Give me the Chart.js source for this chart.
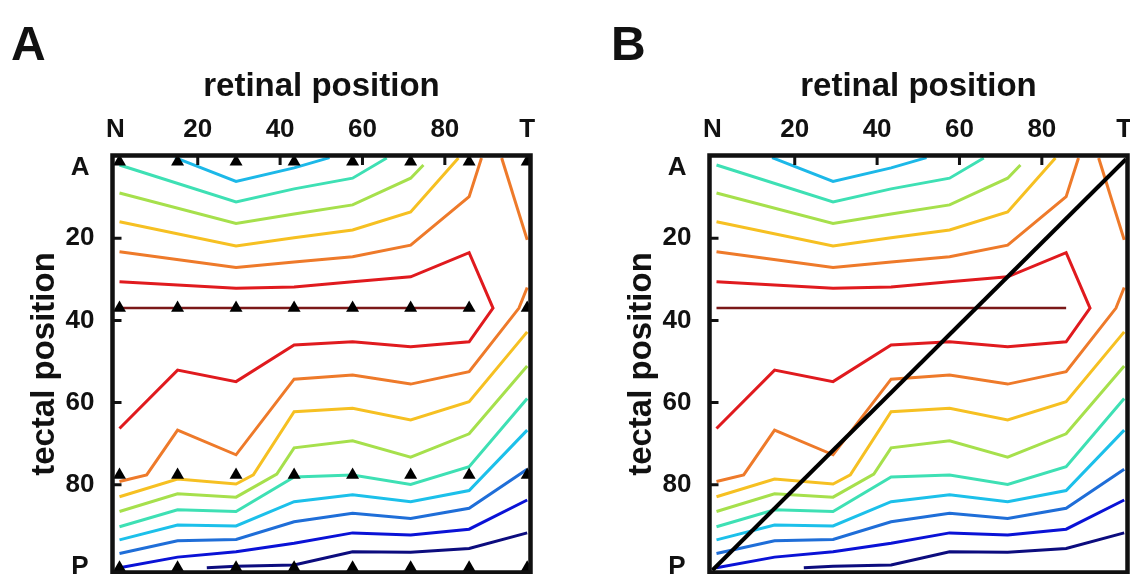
<!DOCTYPE html>
<html>
<head>
<meta charset="utf-8">
<script src="https://cdn.jsdelivr.net/npm/chart.js@4.4.1/dist/chart.umd.min.js"></script>
<style>
  html, body { margin: 0; padding: 0; background: #fff; }
  body { width: 1130px; height: 574px; position: relative; overflow: hidden; font-family: "Liberation Sans", Arial, sans-serif; }
  .panel { position: absolute; top: 0; height: 574px; }
  .letter { position: absolute; top: 20px; font-weight: bold; font-size: 48px; line-height: 48px; color: #111; }
</style>
</head>
<body>
<div class="panel" style="left:0;width:565px"><canvas id="chartA"></canvas></div>
<div class="panel" style="left:597px;width:533px"><canvas id="chartB"></canvas></div>
<div class="letter" style="left:11px">A</div>
<div class="letter" style="left:611px">B</div>
<script>
const FONT = '"Liberation Sans", Arial, sans-serif';

// axis ticks
const xTickValues = [0, 20, 40, 60, 80, 100];
const xTickLabels = ['N', '20', '40', '60', '80', 'T'];
const yTickValues = [3, 20, 40, 60, 80, 100];
const yTickLabels = ['A', '20', '40', '60', '80', 'P'];

// sampling grid (retinal columns x tectal rows), shown as triangles in A
const retinalCols = [1, 15.1, 29.3, 43.4, 57.6, 71.7, 85.9, 100];
const tectalRows = [1.4, 37, 77.6, 100.2];

// contour lines, [retinal, tectal]
const skyTop = [[14.5, 0.4], [29.3, 6.2], [43.4, 2.9], [52, 0.4]];
const aquaTop = [[1, 2.2], [29.3, 11.2], [43.4, 8.0], [57.6, 5.4], [65.9, 0.5]];
const ygTop = [[1, 9.0], [29.3, 16.4], [43.4, 14.1], [57.6, 11.9], [71.7, 5.4], [74.8, 2.2]];
const goldTop = [[1, 16.0], [29.3, 21.9], [43.4, 19.9], [57.6, 18.0], [71.7, 13.6], [83.3, 0.5]];
const orangeTop = [[1, 23.3], [29.3, 27.1], [43.4, 25.8], [57.6, 24.5], [71.7, 21.7], [85.9, 9.9], [88.9, 0.5]];
const orangeRight = [[93.8, 0.5], [100, 20.4]];
const redLoop = [[1, 30.6], [15.1, 31.4], [29.3, 32.2], [43.4, 31.9], [57.6, 30.6], [71.7, 29.4], [85.9, 23.5],
                 [91.7, 37], [85.9, 45.2], [71.7, 46.4], [57.6, 45.2], [43.4, 46.0], [29.3, 54.9], [15.1, 52.1], [1, 66.3]];
const darkRed = [[1, 37], [85.9, 37]];
const orangeLow = [[1, 79.2], [7.6, 77.6], [15.1, 66.7], [29.3, 72.7], [43.4, 54.3], [57.6, 53.3], [71.7, 55.5], [85.9, 52.5], [98, 37], [100, 32]];
const goldLow = [[1, 82.9], [15.1, 78.6], [29.3, 79.8], [33.5, 77.6], [43.4, 62.2], [57.6, 61.4], [71.7, 64.2], [85.9, 59.8], [100, 42.8]];
const ygLow = [[1, 86.5], [15.1, 82.2], [29.3, 83.0], [39.2, 77.4], [43.4, 71.0], [57.6, 69.3], [71.7, 73.3], [85.9, 67.6], [100, 51.1]];
const aquaLow = [[1, 90.2], [15.1, 86.1], [29.3, 86.5], [43.4, 78.1], [57.6, 77.6], [71.7, 79.9], [85.9, 75.6], [100, 59.0]];
const skyLow = [[1, 93.4], [15.1, 89.8], [29.3, 90.0], [43.4, 84.1], [57.6, 82.4], [71.7, 84.1], [85.9, 81.4], [100, 66.7]];
const midBlueLow = [[1, 96.7], [15.1, 93.6], [29.3, 93.3], [43.4, 89.0], [57.6, 86.9], [71.7, 88.2], [85.9, 85.7], [100, 76.2]];
const blueLow = [[1, 100.2], [15.1, 97.6], [29.3, 96.3], [43.4, 94.2], [57.6, 91.7], [71.7, 92.2], [85.9, 90.8], [100, 83.7]];
const navyLow = [[22.2, 100.2], [29.3, 99.8], [43.4, 99.5], [57.6, 96.3], [71.7, 96.4], [85.9, 95.5], [100, 91.7]];

// diagonal reference line in B
const diagonal = [[0, 100.8], [100.4, 0.8]];

const contours = [
  { pts: skyTop, color: '#1cb8e8' },
  { pts: aquaTop, color: '#3ee0b4' },
  { pts: ygTop, color: '#a6e04c' },
  { pts: goldTop, color: '#f6c022' },
  { pts: orangeTop, color: '#ee7a2a' },
  { pts: orangeRight, color: '#ee7a2a' },
  { pts: redLoop, color: '#e01a1e' },
  { pts: darkRed, color: '#7a1818', width: 2.5 },
  { pts: orangeLow, color: '#ee7a2a' },
  { pts: goldLow, color: '#f6c022' },
  { pts: ygLow, color: '#a6e04c' },
  { pts: aquaLow, color: '#3ee0b4' },
  { pts: skyLow, color: '#1cc0ea' },
  { pts: midBlueLow, color: '#1f6ed8' },
  { pts: blueLow, color: '#0a12d6' },
  { pts: navyLow, color: '#0c0c7e' }
];

const triangles = [];
tectalRows.forEach(r => retinalCols.forEach(c => triangles.push([c, r])));

// thick box + inward tick marks
const framePlugin = {
  id: 'frame',
  afterDatasetsDraw(chart) {
    const { ctx, chartArea: a, scales: { x, y } } = chart;
    ctx.save();
    ctx.strokeStyle = '#111';
    ctx.lineWidth = 3;
    ctx.beginPath();
    xTickValues.slice(1, -1).forEach(v => {
      const px = x.getPixelForValue(v);
      ctx.moveTo(px, a.top); ctx.lineTo(px, a.top + 9.5);
    });
    yTickValues.slice(1, -1).forEach(v => {
      const py = y.getPixelForValue(v);
      ctx.moveTo(a.left, py); ctx.lineTo(a.left + 9, py);
    });
    ctx.stroke();
    ctx.lineWidth = 4.5;
    ctx.strokeRect(a.left, a.top, a.right - a.left, a.bottom - a.top);
    ctx.restore();
  }
};

function makeChart(id, canvasWidth, withTriangles, withDiagonal) {
  const datasets = [];
  if (withTriangles) {
    datasets.push({ data: triangles, showLine: false, pointStyle: 'triangle', pointRadius: 7.5,
                    pointBackgroundColor: '#000', pointBorderColor: '#000', pointBorderWidth: 0 });
  }
  if (withDiagonal) {
    datasets.push({ data: diagonal, showLine: true, borderColor: '#000', borderWidth: 4, pointRadius: 0 });
  }
  contours.forEach(c => datasets.push({
    data: c.pts, showLine: true, borderColor: c.color, borderWidth: c.width || 3,
    pointRadius: 0, tension: 0, borderJoinStyle: 'miter'
  }));

  new Chart(document.getElementById(id), {
    type: 'scatter',
    data: { datasets: datasets },
    options: {
      responsive: true,
      maintainAspectRatio: false,
      animation: false,
      layout: { autoPadding: false, padding: { left: 0, top: 0, right: canvasWidth - 530.5, bottom: 1.5 } },
      plugins: { legend: { display: false }, tooltip: { enabled: false } },
      scales: {
        x: {
          type: 'linear', position: 'top', min: -0.7, max: 100.8,
          afterFit: s => { s.height = 155.5; s.paddingLeft = 0; s.paddingRight = 0; },
          afterBuildTicks: s => { s.ticks = xTickValues.map(v => ({ value: v })); },
          grid: { display: false, drawTicks: false },
          border: { display: false },
          ticks: {
            autoSkip: false, maxRotation: 0, padding: 10, color: '#111',
            font: { family: FONT, size: 26, weight: 'bold' },
            callback: (v, i) => xTickLabels[i]
          },
          title: {
            display: true, text: 'retinal position', color: '#111',
            font: { family: FONT, size: 33, weight: 'bold' },
            padding: { top: 67, bottom: 0 }
          }
        },
        y: {
          type: 'linear', reverse: true, min: -0.12, max: 101.34,
          afterFit: s => { s.width = 112.5; s.paddingTop = 0; s.paddingBottom = 0; },
          afterBuildTicks: s => { s.ticks = yTickValues.map(v => ({ value: v })); },
          grid: { display: false, drawTicks: false },
          border: { display: false },
          ticks: {
            autoSkip: false, crossAlign: 'center', padding: 18, color: '#111',
            font: { family: FONT, size: 26, weight: 'bold' },
            callback: (v, i) => yTickLabels[i]
          },
          title: {
            display: true, text: 'tectal position', color: '#111',
            font: { family: FONT, size: 33, weight: 'bold' },
            padding: { top: 25, bottom: 0 }
          }
        }
      }
    },
    plugins: [framePlugin]
  });
}

makeChart('chartA', 565, true, false);
makeChart('chartB', 533, false, true);
</script>
</body>
</html>
